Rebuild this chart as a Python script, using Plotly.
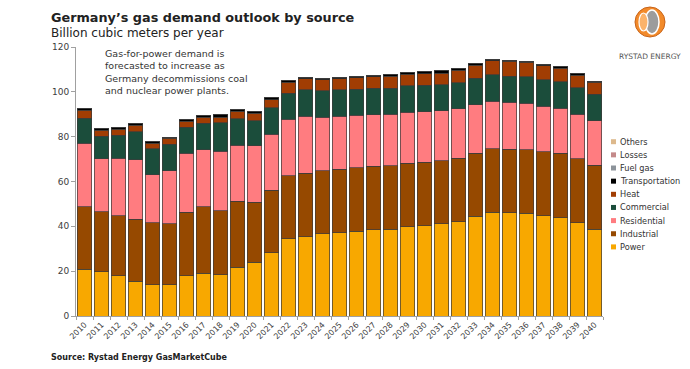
import plotly.graph_objects as go

years = [str(y) for y in range(2010, 2041)]

power = [20.8, 19.7, 17.9, 15.6, 14.0, 14.0, 18.0, 19.1, 18.3, 21.7, 24.0, 28.3, 34.4, 35.4, 36.6, 37.2,
         37.7, 38.4, 38.7, 39.9, 40.3, 41.1, 42.1, 44.4, 46.2, 46.0, 45.9, 44.8, 43.9, 41.5, 38.7]
industrial = [27.9, 26.9, 26.9, 27.6, 27.5, 27.2, 28.3, 29.6, 28.7, 29.5, 26.8, 27.8, 28.1, 28.3, 28.2, 28.3,
              28.4, 28.3, 28.3, 28.3, 28.3, 28.1, 28.3, 28.3, 28.4, 28.3, 28.2, 28.4, 28.8, 28.6, 28.6]
residential = [28.4, 23.5, 25.6, 26.6, 21.6, 23.6, 26.2, 25.4, 26.4, 25.0, 25.1, 25.0, 25.2, 25.5, 23.9, 23.5,
               23.4, 23.1, 22.9, 22.8, 22.5, 22.4, 22.1, 21.5, 21.1, 21.0, 20.9, 20.3, 19.9, 19.8, 19.8]
commercial = [11.2, 10.1, 10.3, 12.4, 11.5, 11.9, 11.8, 11.9, 12.8, 11.8, 11.2, 11.8, 11.7, 11.7, 11.8, 11.9,
              11.7, 11.7, 11.8, 11.8, 11.8, 11.6, 11.6, 11.8, 11.9, 11.7, 11.7, 11.9, 11.9, 11.9, 11.8]
heat = [3.4, 2.7, 2.7, 2.8, 2.4, 2.5, 2.6, 2.6, 2.5, 3.3, 3.4, 3.6, 4.8, 4.9, 4.9, 4.9,
        5.1, 5.2, 5.2, 5.1, 5.2, 5.2, 5.6, 5.8, 6.3, 6.6, 6.4, 6.3, 6.1, 5.7, 5.3]
transportation = [0.9, 0.8, 0.7, 0.9, 0.7, 0.6, 0.9, 0.9, 1.1, 0.7, 0.8, 0.9, 0.8, 0.8, 0.7, 0.8,
                  0.7, 0.8, 0.9, 0.8, 0.8, 0.9, 0.8, 0.9, 0.7, 0.6, 0.6, 0.7, 0.8, 0.7, 0.6]
fuel_gas = [0.0] * 31
losses = [0.0] * 31
others = [0.0] * 31

series_names = ["Power", "Industrial", "Residential", "Commercial", "Heat",
                "Transportation", "Fuel gas", "Losses", "Others"]
series_values = [power, industrial, residential, commercial, heat,
                 transportation, fuel_gas, losses, others]
series_colors = ["#F8A800", "#964900", "#FF7C80", "#1B4D3B", "#A13D03",
                 "#000000", "#8C939A", "#C48A8A", "#DDB98C"]

y_ticks = [0, 20, 40, 60, 80, 100, 120]

FONT = "DejaVu Sans, Verdana, sans-serif"

fig = go.Figure()
for name, vals, col in zip(series_names, series_values, series_colors):
    fig.add_trace(go.Bar(
        x=years, y=vals, name=name,
        marker=dict(color=col, line=dict(color="#3c3c3c", width=0.7)),
        showlegend=False,
    ))

# plot area geometry (pixels) for custom legend placement
L, R, T, B = 76, 87, 47, 53
W, H = 690, 369
pw, ph = W - L - R, H - T - B

def px2x(px):
    return (px - L) / pw

def py2y(py):
    return (H - B - py) / ph

shapes = []
annotations = []

# custom legend (Others at top, Power at bottom)
leg_top = 141.7
leg_step = 13.15
for i, (name, col) in enumerate(reversed(list(zip(series_names, series_colors)))):
    cy = leg_top + i * leg_step
    shapes.append(dict(type="rect", xref="paper", yref="paper",
                       x0=px2x(611), x1=px2x(616), y0=py2y(cy + 2.5), y1=py2y(cy - 2.5),
                       fillcolor=col, line=dict(width=0)))
    annotations.append(dict(xref="paper", yref="paper", x=px2x(617.5), y=py2y(cy),
                            text=name, showarrow=False, xanchor="left", yanchor="middle",
                            font=dict(family=FONT, size=8.2, color="#333333")))

# Titles
annotations.append(dict(xref="paper", yref="paper", x=px2x(49), y=py2y(17),
                        text="<b>Germany’s gas demand outlook by source</b>", showarrow=False,
                        xanchor="left", yanchor="middle",
                        font=dict(family=FONT, size=12.8, color="#222222")))
annotations.append(dict(xref="paper", yref="paper", x=px2x(49), y=py2y(33),
                        text="Billion cubic meters per year", showarrow=False,
                        xanchor="left", yanchor="middle",
                        font=dict(family=FONT, size=12, color="#222222")))

# Note
annotations.append(dict(xref="paper", yref="paper", x=px2x(103), y=py2y(46),
                        text="Gas-for-power demand is<br>forecasted to increase as<br>"
                             "Germany decommissions coal<br>and nuclear power plants.",
                        showarrow=False, xanchor="left", yanchor="top", align="left",
                        font=dict(family=FONT, size=9.5, color="#333333")))

# Source
annotations.append(dict(xref="paper", yref="paper", x=px2x(49), y=py2y(357),
                        text="<b>Source: Rystad Energy GasMarketCube</b>", showarrow=False,
                        xanchor="left", yanchor="middle",
                        font=dict(family=FONT, size=8, color="#222222")))

# Logo
cx, cy, r = 650, 22, 15
shapes.append(dict(type="circle", xref="paper", yref="paper",
                   x0=px2x(cx - r), x1=px2x(cx + r), y0=py2y(cy + r), y1=py2y(cy - r),
                   fillcolor="#F28A2A", line=dict(color="#C8641A", width=1)))
shapes.append(dict(type="circle", xref="paper", yref="paper",
                   x0=px2x(cx - 5), x1=px2x(cx + 9), y0=py2y(cy + 12), y1=py2y(cy - 12),
                   fillcolor="#9C9C9C", line=dict(color="#FFFFFF", width=1.5)))
shapes.append(dict(type="circle", xref="paper", yref="paper",
                   x0=px2x(cx - 11), x1=px2x(cx - 2), y0=py2y(cy + 9), y1=py2y(cy - 9),
                   fillcolor="#FBB36A", line=dict(color="#FFFFFF", width=1.2)))
annotations.append(dict(xref="paper", yref="paper", x=px2x(650), y=py2y(56),
                        text="RYSTAD ENERGY", showarrow=False, xanchor="center", yanchor="middle",
                        font=dict(family=FONT, size=7.5, color="#555555")))

fig.update_layout(
    width=W, height=H,
    margin=dict(l=L, r=R, t=T, b=B, pad=0),
    barmode="stack", bargap=0.17,
    plot_bgcolor="white", paper_bgcolor="white",
    font=dict(family=FONT, size=9, color="#404040"),
    shapes=shapes, annotations=annotations,
    showlegend=False,
    xaxis=dict(type="category", showline=True, linecolor="#a0a0a0", linewidth=1,
               ticks="outside", tickson="boundaries", ticklen=3, tickcolor="#a0a0a0",
               tickangle=-45, tickfont=dict(family=FONT, size=8, color="#404040"),
               showgrid=False, fixedrange=True),
    yaxis=dict(range=[0, 120], tickvals=y_ticks, showline=True, linecolor="#a0a0a0",
               linewidth=1, ticks="outside", ticklen=4, tickcolor="#a0a0a0",
               tickfont=dict(family=FONT, size=9, color="#404040"),
               showgrid=False, zeroline=False, fixedrange=True),
)

fig.write_html("out.html", config={"displayModeBar": False},
               post_script="document.body.style.margin='0px';")
